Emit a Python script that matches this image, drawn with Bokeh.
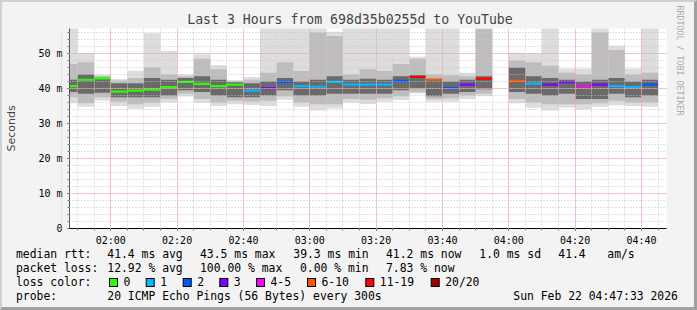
import math
import pandas as pd
from bokeh.plotting import figure
from bokeh.layouts import column
from bokeh.models import Title, FixedTicker, DatetimeTickFormatter, Range1d, Div
from bokeh.embed import file_html
from bokeh.resources import INLINE

nan = float("nan")

# ---------------- data ----------------
bin_start_labels = ["01:45", "01:50", "01:55", "02:00", "02:05", "02:10", "02:15", "02:20", "02:25",
                    "02:30", "02:35", "02:40", "02:45", "02:50", "02:55", "03:00", "03:05", "03:10",
                    "03:15", "03:20", "03:25", "03:30", "03:35", "03:40", "03:45", "03:50", "03:55",
                    "04:00", "04:05", "04:10", "04:15", "04:20", "04:25", "04:30", "04:35", "04:40"]
median_ms = [40.7, 42.5, 42.9, 39.1, 39.4, 39.7, 40.4, 41.9, 41.3, 40.7, 41.1, 39.4, 40.1, 41.9, 40.7,
             40.5, 41.9, 41.1, 41.1, 41.1, 42.2, 43.3, 42.5, 40.1, 41.1, 42.8, nan, 42.2, 41.4, 41.1,
             41.8, 40.7, 41.1, 40.7, 40.4, 41.1]
loss_pings = [0, 0, 0, 0, 0, 0, 0, 0, 0, 0, 0, 1, 3, 2, 1, 1, 1, 1, 1, 1, 2, 17, 9, 2, 3, 17, 20,
              9, 1, 3, 3, 4, 3, 1, 1, 2]
smoke_lo = [35.8, 34.8, 36.5, 35.0, 34.2, 34.8, 36.0, 37.7, 35.9, 35.0, 35.5, 35.3, 35.0, 36.8, 34.8,
            33.7, 34.3, 36.0, 35.6, 36.2, 36.7, 38.6, 36.2, 36.2, 37.0, 37.8, nan, 35.8, 34.5, 33.7,
            34.5, 34.0, 34.8, 35.2, 35.0, 34.8]
smoke_p10 = [37.5, 35.8, 37.5, 36.2, 35.5, 36.0, 37.0, 38.5, 37.0, 36.0, 36.5, 36.3, 36.5, 37.8, 36.0,
             35.5, 35.5, 37.0, 36.8, 37.2, 37.8, 39.0, 37.0, 37.2, 38.0, 38.5, nan, 37.0, 36.0, 35.5,
             35.5, 35.5, 35.8, 36.5, 36.0, 36.0]
smoke_q1 = [39.0, 38.5, 38.8, 37.5, 37.5, 37.5, 38.0, 39.5, 39.0, 38.0, 37.5, 37.5, 38.0, 39.5, 38.0,
            38.0, 38.5, 38.5, 38.5, 38.5, 39.5, 40.0, 37.8, 38.5, 39.0, 39.8, nan, 39.0, 38.5, 38.0,
            38.5, 37.0, 37.0, 38.5, 37.5, 38.0]
smoke_q3 = [42.5, 44.0, 43.0, 41.5, 41.5, 43.0, 42.5, 43.0, 43.5, 42.5, 41.8, 41.5, 42.0, 43.0, 42.0,
            42.5, 43.5, 42.5, 42.8, 42.5, 43.5, 43.8, 42.8, 42.0, 42.5, 43.5, nan, 46.0, 43.5, 43.0,
            42.5, 42.0, 42.5, 43.0, 42.0, 42.5]
smoke_p90 = [47.0, 47.5, 43.6, 42.3, 43.0, 46.0, 44.0, 43.5, 48.5, 45.5, 42.1, 42.5, 44.5, 47.5, 45.0,
             56.0, 55.0, 44.0, 45.5, 45.0, 47.0, 48.5, 44.0, 43.8, 43.5, 57.0, nan, 48.0, 47.5, 46.5,
             44.5, 44.0, 56.0, 51.0, 44.0, 44.5]
smoke_hi = [58.0, 50.0, 44.0, 42.7, 45.1, 55.8, 50.7, 44.0, 49.8, 46.7, 42.4, 43.3, 58.0, 58.0, 58.0,
            58.0, 56.2, 58.0, 58.0, 58.0, 58.0, 49.1, 58.0, 58.0, 44.5, 58.0, nan, 50.2, 50.0, 58.0,
            45.7, 45.7, 58.0, 52.2, 45.7, 58.0]

loss_legend_labels = ["0", "1", "2", "3", "4-5", "6-10", "11-19", "20/20"]
loss_legend_colors = ["#26ff00", "#00b8ff", "#0059ff", "#7e00ff", "#ff00ff", "#ff5500", "#ff0000", "#a10000"]
y_ticks = [0, 10, 20, 30, 40, 50]
y_tick_labels = ["0", "10 m", "20 m", "30 m", "40 m", "50 m"]
x_tick_labels = ["02:00", "02:20", "02:40", "03:00", "03:20", "03:40", "04:00", "04:20", "04:40"]

title_text = "Last 3 Hours from 698d35b0255d to YouTube"
watermark_text = "RRDTOOL / TOBI OETIKER"
stats_rtt = ["median rtt:", "41.4 ms avg", "43.5 ms max", "39.3 ms min", "41.2 ms now", "1.0 ms sd", "41.4", "am/s"]
stats_loss = ["packet loss:", "12.92 % avg", "100.00 % max", "0.00 % min", "7.83 % now"]
probe_text = ["probe:", "20 ICMP Echo Pings (56 Bytes) every 300s", "Sun Feb 22 04:47:33 2026"]

# ---------------- geometry (canvas pixels) ----------------
DAY = "2026-02-22 "
X_START = pd.Timestamp(DAY + "01:47:33")
X_END = pd.Timestamp(DAY + "04:47:33")
W, H = 697, 310
BL, BT, BR, BB = 2, 2, 3, 3          # image frame widths
FL, FR, FT, FB = 67, 668, 28, 228    # plot frame
SPLIT = 248                          # where the text panel begins
Y_MAX = (FB - FT) / 3.5
BG = "#f3f3f3"
MONO = "DejaVu Sans Mono"

def ms(ts):
    return ts.value / 1e6

def loss_color(n):
    if n == 0: return loss_legend_colors[0]
    if n == 1: return loss_legend_colors[1]
    if n == 2: return loss_legend_colors[2]
    if n == 3: return loss_legend_colors[3]
    if n <= 5: return loss_legend_colors[4]
    if n <= 10: return loss_legend_colors[5]
    if n <= 19: return loss_legend_colors[6]
    return loss_legend_colors[7]

left = [pd.Timestamp(DAY + t) for t in bin_start_labels]
right = [t + pd.Timedelta(minutes=5) for t in left]
colors = [loss_color(n) for n in loss_pings]

inner_w = W - BL - BR
p = figure(width=inner_w, height=SPLIT - BT, x_axis_type="datetime",
           x_range=Range1d(X_START, X_END), y_range=Range1d(0, Y_MAX),
           output_backend="svg", toolbar_location=None,
           min_border_left=FL - BL, min_border_right=(W - BR) - FR,
           min_border_top=FT - BT, min_border_bottom=SPLIT - FB,
           background_fill_color="white", border_fill_color=BG)
p.outline_line_color = None

p.title.text = title_text
p.title.text_font = MONO
p.title.text_font_size = "13.2px"
p.title.text_font_style = "normal"
p.title.align = "left"
p.title.offset = 184.7 - FL
p.title.standoff = 3

# smoke layers
p.quad(left=left, right=right, bottom=smoke_lo, top=smoke_hi, fill_color="#dddddd", line_color=None)
p.quad(left=left, right=right, bottom=smoke_p10, top=smoke_p90, fill_color="#bdbdbd", line_color=None)
p.quad(left=left, right=right, bottom=smoke_q1, top=smoke_q3, fill_color="#6a6a6a", line_color=None)
# medians coloured by loss
p.segment(x0=left, x1=right, y0=median_ms, y1=median_ms, line_color=colors, line_width=2.2)

# axes
major_x = [pd.Timestamp(DAY + h) for h in x_tick_labels]
minor_x = [ms(t) for t in left] + [ms(right[-1])]
p.xaxis.ticker = FixedTicker(ticks=[ms(t) for t in major_x], minor_ticks=minor_x)
p.xaxis.formatter = DatetimeTickFormatter(minutes="%H:%M", hours="%H:%M", hourmin="%H:%M", minsec="%H:%M")
p.yaxis.ticker = FixedTicker(ticks=y_ticks, minor_ticks=list(range(0, 58, 2)))
p.yaxis.major_label_overrides = dict(zip(y_ticks, y_tick_labels))
for ax in (p.xaxis[0], p.yaxis[0]):
    ax.major_label_text_font = MONO
    ax.major_label_text_font_size = "10px"
    ax.major_label_text_color = "black"
    ax.major_tick_in = 0
    ax.major_tick_out = 2
    ax.minor_tick_in = 0
    ax.minor_tick_out = 2
    ax.major_tick_line_color = "#555555"
    ax.minor_tick_line_color = "#777777"
    ax.major_label_standoff = 5
p.xaxis.axis_line_color = "black"
p.yaxis.axis_line_color = "#555555"
p.xaxis.major_label_standoff = 4
p.yaxis.axis_label = "Seconds"
p.yaxis.axis_label_text_font = "DejaVu Sans"
p.yaxis.axis_label_text_font_size = "11px"
p.yaxis.axis_label_text_font_style = "normal"
p.yaxis.axis_label_standoff = 17

# grid (drawn over the smoke, like rrdtool)
for g in (p.xgrid[0], p.ygrid[0]):
    g.level = "overlay"
    g.grid_line_color = "#f2a0a0"
    g.grid_line_dash = "1 1"
    g.minor_grid_line_color = "#c4c4c4"
    g.minor_grid_line_dash = "1 2"

# watermark on the right side
p.add_layout(Title(text=watermark_text, align="left", offset=5 - FT, standoff=16,
                   text_font=MONO, text_font_size="8.3px", text_font_style="normal",
                   text_color="#aaaaaa"), "right")

# ---------------- legend / statistics panel below (inline SVG text) ----------------
TXT_STYLE = f"font-family:'{MONO}',monospace;font-size:11.4px;fill:#000000;white-space:pre"

def t(x, y, s):
    return f'<text x="{x - BL:.1f}" y="{y - SPLIT:.1f}" style="{TXT_STYLE}">{s}</text>'

parts = []
for s, x in zip(stats_rtt, [16, 107.3, 200, 293.3, 386, 479.3, 558.3, 607.3]):
    parts.append(t(x, 258, s))
for s, x in zip(stats_loss, [16, 107.3, 200, 300, 386]):
    parts.append(t(x, 272, s))
parts.append(t(16, 286, "loss color:"))
box_x = [109, 145.7, 182.7, 219.3, 256, 307, 365.3, 430.7]
for s, col, bx in zip(loss_legend_labels, loss_legend_colors, box_x):
    parts.append(f'<rect x="{bx - BL + 0.5:.1f}" y="{278 - SPLIT + 0.5:.1f}" width="8" height="8" '
                 f'style="fill:{col};stroke:#000000;stroke-width:1"/>')
    parts.append(t(bx + 14.5, 286, s))
for s, x in zip(probe_text, [16, 107.3, 513.3]):
    parts.append(t(x, 300, s))

panel_h = (H - BB) - SPLIT
svg = (f'<svg xmlns="http://www.w3.org/2000/svg" width="{inner_w}" height="{panel_h}" '
       f'style="display:block;overflow:visible">' + "".join(parts) + "</svg>")
stats = Div(text=svg, width=inner_w, height=panel_h,
            styles={"background-color": BG, "margin": "0", "padding": "0", "overflow": "visible",
                    "font-family": f"'{MONO}', monospace"})

layout = column(p, stats, spacing=0,
                styles={"border-style": "solid", "border-width": f"{BT}px {BR}px {BB}px {BL}px",
                        "border-color": "#d0d0d0 #a0a0a0 #a0a0a0 #d0d0d0", "background-color": BG,
                        "gap": "0px"})

open("out.html", "w").write(file_html(layout, INLINE))
